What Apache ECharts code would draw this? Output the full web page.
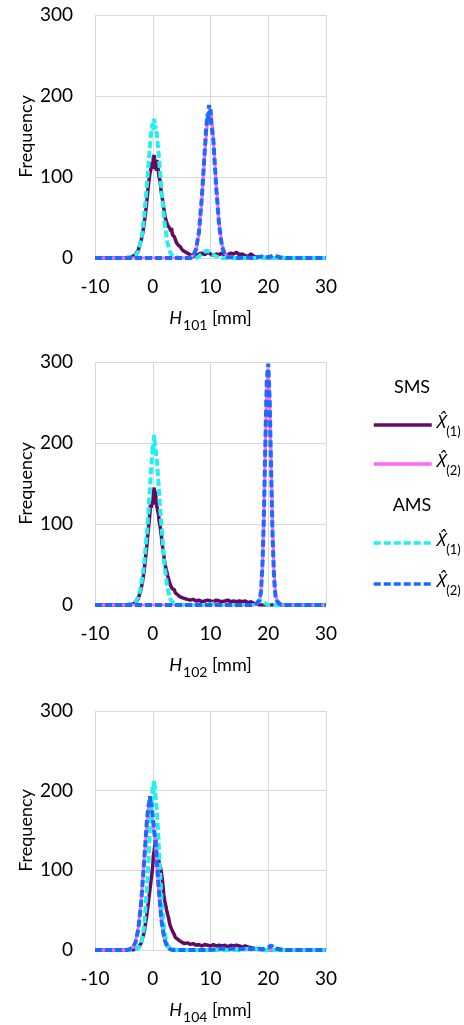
<!DOCTYPE html>
<html>
<head>
<meta charset="utf-8">
<script src="https://cdn.jsdelivr.net/npm/echarts@6/dist/echarts.min.js"></script>
<style>
html,body{margin:0;padding:0;background:#fff;}
#chart{width:464px;height:1025px;}
</style>
</head>
<body>
<div id="chart"></div>
<script>
// ---- data: [H (mm), frequency] ----
const seriesNames = ['SMS (1)', 'SMS (2)', 'AMS (1)', 'AMS (2)'];
const panelSubs = ['101', '102', '104'];
const xTicks = [-10, 0, 10, 20, 30];
const yTicks = [0, 100, 200, 300];

const h101_sms1 = [[-10,0],[-5,0],[-4,1],[-3.5,2],[-3,4],[-2.5,10],[-2,22],[-1.75,30],[-1.5,42],[-1.25,55],[-1,72],[-0.75,90],[-0.5,104],[-0.25,112],[-0.1,118],[0,110],[0.1,124],[0.25,127],[0.4,114],[0.5,117],[0.6,108],[0.75,121],[0.9,110],[1,106],[1.1,100],[1.25,96],[1.4,86],[1.5,80],[1.75,70],[1.9,62],[2,58],[2.1,52],[2.25,50],[2.4,44],[2.5,46],[2.6,40],[2.75,39],[2.9,42],[3,36],[3.1,33],[3.25,37],[3.4,29],[3.5,31],[3.6,27],[3.75,26],[3.9,28],[4,24],[4.1,19],[4.25,21],[4.4,16],[4.5,17],[4.75,14],[5,13],[5.1,10],[5.25,11],[5.5,8],[5.75,7],[6,6],[6.5,4],[7,2],[7.5,3],[8,5],[8.5,6],[9,4],[9.5,7],[10,5],[10.5,3],[11,5],[11.5,4],[12,6],[12.5,3],[13,4],[13.5,6],[14,5],[14.5,7],[15,4],[15.5,5],[16,3],[16.5,2],[17,5],[17.5,2],[18,1],[19,1],[20,0],[30,0]];
const h101_sms2 = [[-10,0],[6,0],[6.5,1],[7,3],[7.5,10],[8,30],[8.5,72],[9,128],[9.5,172],[9.75,180],[10,183],[10.25,170],[10.5,146],[11,90],[11.5,42],[12,16],[12.5,5],[13,2],[13.5,1],[14,0],[30,0]];
const h101_ams1 = [[-10,0],[-4.5,0],[-4,1],[-3.5,2],[-3,3],[-2.5,8],[-2,22],[-1.5,50],[-1,92],[-0.75,115],[-0.5,138],[-0.25,158],[0,166],[0.1,158],[0.25,172],[0.4,160],[0.5,163],[0.75,150],[1,130],[1.25,108],[1.5,86],[2,46],[2.5,20],[3,7],[3.5,2],[4,1],[4.5,0],[7.5,0],[8,2],[8.5,5],[9,8],[9.5,9],[10,6],[10.5,4],[11,2],[11.5,1],[12,0],[30,0]];
const h101_ams2 = [[-10,0],[6.5,0],[7,3],[7.5,11],[8,32],[8.5,75],[9,132],[9.25,160],[9.5,178],[9.6,170],[9.75,189],[9.9,176],[10,184],[10.1,166],[10.25,160],[10.5,145],[10.75,115],[11,86],[11.5,40],[12,14],[12.5,4],[13,1],[14,1],[15,0],[16,1],[17,0],[18,1],[19,2],[20,1],[21,3],[21.5,2],[22,1],[23,0],[30,0]];

const h102_sms1 = [[-10,0],[-4.5,0],[-4,1],[-3.5,1],[-3,3],[-2.5,8],[-2,20],[-1.75,30],[-1.5,42],[-1.25,58],[-1,75],[-0.75,95],[-0.5,112],[-0.4,124],[-0.25,120],[-0.1,128],[0,124],[0.1,136],[0.25,145],[0.4,134],[0.5,140],[0.6,126],[0.75,128],[0.9,115],[1,112],[1.1,104],[1.25,98],[1.4,90],[1.5,85],[1.6,76],[1.75,70],[1.9,62],[2,56],[2.1,52],[2.25,46],[2.4,42],[2.5,39],[2.6,36],[2.75,34],[2.9,28],[3,30],[3.1,24],[3.25,25],[3.4,20],[3.5,22],[3.75,19],[3.9,15],[4,16],[4.25,13],[4.5,12],[4.75,10],[5,10],[5.5,8],[6,7],[6.5,6],[7,7],[7.5,5],[8,6],[8.5,4],[9,5],[9.5,6],[10,5],[10.5,4],[11,6],[11.5,5],[12,4],[12.5,5],[13,6],[13.5,4],[14,5],[14.5,4],[15,5],[15.5,4],[16,5],[16.5,3],[17,4],[17.5,2],[18,1],[18.5,0],[30,0]];
const h102_sms2 = [[-10,0],[17.5,0],[18,1],[18.5,5],[18.75,16],[19,48],[19.25,108],[19.5,196],[19.75,270],[20,292],[20.25,255],[20.5,172],[20.75,92],[21,40],[21.25,14],[21.5,6],[21.75,3],[22,1],[22.5,0],[30,0]];
const h102_ams1 = [[-10,0],[-4.5,0],[-4,1],[-3.5,2],[-3,4],[-2.5,10],[-2,24],[-1.5,50],[-1,90],[-0.75,115],[-0.5,142],[-0.25,172],[-0.1,185],[0,198],[0.1,188],[0.25,210],[0.4,196],[0.5,192],[0.75,176],[1,150],[1.25,122],[1.5,98],[2,52],[2.5,22],[3,8],[3.5,3],[4,1],[4.5,0],[9.5,0],[10,1],[10.5,2],[11,1],[11.5,0],[17.5,0],[18,2],[18.5,6],[18.75,8],[19,5],[19.5,2],[20,0],[30,0]];
const h102_ams2 = [[-10,0],[17.5,0],[18,2],[18.25,3],[18.5,6],[18.75,17],[19,50],[19.25,112],[19.5,200],[19.75,278],[20,298],[20.1,300],[20.25,250],[20.5,165],[20.75,85],[21,34],[21.25,11],[21.5,5],[21.75,3],[22,1],[22.5,0],[30,0]];

const h104_sms1 = [[-10,0],[-3.5,0],[-3,1],[-2.5,3],[-2,9],[-1.5,22],[-1,45],[-0.5,75],[-0.25,90],[0,105],[0.1,118],[0.25,125],[0.4,134],[0.5,140],[0.6,126],[0.75,128],[0.9,114],[1,118],[1.1,108],[1.25,110],[1.4,102],[1.5,100],[1.6,92],[1.75,82],[1.9,70],[2,65],[2.1,60],[2.25,56],[2.4,50],[2.5,48],[2.6,44],[2.75,40],[2.9,34],[3,32],[3.1,29],[3.25,28],[3.4,24],[3.5,22],[3.6,23],[3.75,19],[3.9,16],[4,17],[4.25,14],[4.5,13],[4.75,11],[5,10],[5.5,8],[6,9],[6.5,7],[7,8],[7.5,6],[8,7],[8.5,5],[9,7],[9.5,6],[10,5],[10.5,7],[11,5],[11.5,6],[12,5],[12.5,6],[13,4],[13.5,6],[14,5],[14.5,6],[15,5],[15.5,4],[16,5],[16.5,4],[17,3],[17.5,2],[18,2],[18.5,1],[19,0],[30,0]];
const h104_sms2 = [[-10,0],[-4.5,0],[-4,1],[-3.5,3],[-3,10],[-2.5,28],[-2,62],[-1.5,112],[-1,160],[-0.75,178],[-0.5,186],[-0.25,180],[0,162],[0.5,128],[1,76],[1.5,36],[2,13],[2.5,4],[3,1],[3.5,0],[30,0]];
const h104_ams1 = [[-10,0],[-3.5,0],[-3,1],[-2.5,2],[-2,8],[-1.5,29],[-1,78],[-0.75,110],[-0.5,150],[-0.25,182],[0,205],[0.1,196],[0.25,213],[0.4,200],[0.5,198],[0.75,170],[1,138],[1.25,100],[1.5,66],[2,24],[2.5,6],[3,2],[3.5,1],[4,0],[15,0],[16,1],[17,2],[18,1],[19,0],[30,0]];
const h104_ams2 = [[-10,0],[-4.5,0],[-4,1],[-3.5,3],[-3,9],[-2.5,26],[-2,60],[-1.5,110],[-1,164],[-0.75,180],[-0.6,186],[-0.5,193],[-0.4,182],[-0.25,185],[0,168],[0.25,150],[0.5,134],[1,80],[1.5,38],[2,14],[2.5,4],[3,1],[3.5,0],[10,0],[11,1],[12,2],[13,1],[14,2],[15,1],[16,2],[17,1],[18,2],[19,1],[20,3],[20.5,6],[21,2],[22,1],[23,0],[30,0]];

const panels = [
  [h101_sms1, h101_sms2, h101_ams1, h101_ams2],
  [h102_sms1, h102_sms2, h102_ams1, h102_ams2],
  [h104_sms1, h104_sms2, h104_ams1, h104_ams2]
];

// ---- styling ----
const FONT = 'Lato';
const colors = ['#650a5f', '#ff66f5', '#22f0f0', '#1a6bff'];
const lineStyles = [
  {width: 3.5, type: 'solid'},
  {width: 3, type: 'solid'},
  {width: 4, type: [7, 3]},
  {width: 4, type: [7, 3]}
];
const gridTops = [15, 362, 711];
const GRID_LEFT = 95, GRID_W = 231, GRID_H = 243;

const chart = echarts.init(document.getElementById('chart'), null, {renderer: 'canvas'});

const grids = [], xAxes = [], yAxes = [], series = [];
gridTops.forEach((top, i) => {
  grids.push({left: GRID_LEFT, top: top, width: GRID_W, height: GRID_H, containLabel: false});
  xAxes.push({
    type: 'value', gridIndex: i, min: xTicks[0], max: xTicks[xTicks.length - 1], interval: 10,
    axisLine: {show: false}, axisTick: {show: false},
    splitLine: {show: true, lineStyle: {color: '#d9d9d9', width: 1}},
    axisLabel: {color: '#000', fontSize: 19, fontFamily: FONT, margin: 19},
    name: '{h|H}{s|' + panelSubs[i] + '}{n| [mm]}',
    nameLocation: 'middle', nameGap: 51,
    nameTextStyle: {
      color: '#000', fontFamily: FONT,
      rich: {
        h: {fontSize: 18, fontStyle: 'italic', fontFamily: FONT, lineHeight: 20, verticalAlign: 'top', color: '#000'},
        s: {fontSize: 14, fontFamily: FONT, lineHeight: 14, padding: [9, 0, 0, 1], verticalAlign: 'top', color: '#000'},
        n: {fontSize: 18, fontFamily: FONT, lineHeight: 20, verticalAlign: 'top', color: '#000'}
      }
    }
  });
  yAxes.push({
    type: 'value', gridIndex: i, min: yTicks[0], max: yTicks[yTicks.length - 1], interval: 100,
    axisLine: {show: false}, axisTick: {show: false},
    splitLine: {show: true, lineStyle: {color: '#d9d9d9', width: 1}},
    axisLabel: {color: '#000', fontSize: 19, fontFamily: FONT, margin: 22},
    name: 'Frequency', nameLocation: 'middle', nameGap: 60,
    nameTextStyle: {color: '#000', fontSize: 18, fontFamily: FONT}
  });
  panels[i].forEach((data, k) => {
    series.push({
      name: seriesNames[k], type: 'line', xAxisIndex: i, yAxisIndex: i,
      data: data, showSymbol: false, symbol: 'none', smooth: false,
      color: colors[k],
      lineStyle: Object.assign({color: colors[k]}, lineStyles[k]),
      z: 2 + k, animation: false
    });
  });
});

function legendFormatter(name) {
  const n = name.indexOf('(1)') >= 0 ? '1' : '2';
  return '{x|X\u0302}{s|(' + n + ')}';
}
const legendRich = {
  x: {fontSize: 18, fontStyle: 'italic', fontFamily: 'Noto Sans', lineHeight: 22, verticalAlign: 'top', color: '#000'},
  s: {fontSize: 13, fontFamily: FONT, lineHeight: 13, padding: [11, 0, 0, 0], verticalAlign: 'top', color: '#000'}
};
const legendBase = {
  orient: 'vertical', left: 367, itemWidth: 58, itemHeight: 14,
  selectedMode: false, formatter: legendFormatter,
  itemStyle: {opacity: 0, borderWidth: 0},
  lineStyle: {opacity: 1, width: 3.5},
  textStyle: {rich: legendRich, color: '#000'}
};

chart.setOption({
  backgroundColor: '#fff',
  animation: false,
  textStyle: {fontFamily: FONT},
  grid: grids, xAxis: xAxes, yAxis: yAxes, series: series,
  legend: [
    Object.assign({}, legendBase, {top: 409, itemGap: 15, data: ['SMS (1)', 'SMS (2)']}),
    Object.assign({}, legendBase, {top: 527, itemGap: 17, data: ['AMS (1)', 'AMS (2)']})
  ],
  graphic: [
    {type: 'text', x: 412, y: 387, style: {text: 'SMS', fill: '#000', fontSize: 18, fontFamily: FONT, textAlign: 'center', textVerticalAlign: 'middle', align: 'center', verticalAlign: 'middle'}},
    {type: 'text', x: 412, y: 505, style: {text: 'AMS', fill: '#000', fontSize: 18, fontFamily: FONT, textAlign: 'center', textVerticalAlign: 'middle', align: 'center', verticalAlign: 'middle'}}
  ]
});
</script>
</body>
</html>
